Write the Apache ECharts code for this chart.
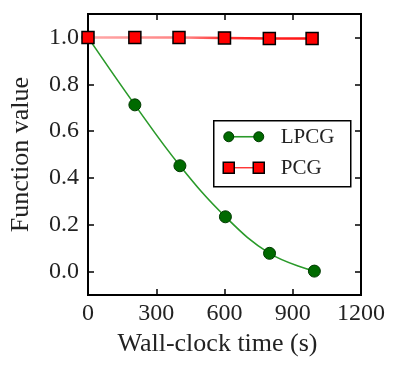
<!DOCTYPE html>
<html>
<head>
<meta charset="utf-8">
<script src="https://cdn.jsdelivr.net/npm/echarts@6/dist/echarts.min.js"></script>
<style>
html,body{margin:0;padding:0;background:#fff;}
#c{width:401px;height:374px;}
</style>
</head>
<body>
<div id="c"></div>
<script>
// ---- data ----
var lpcgTime = [0, 206, 404, 604, 798, 995];
var lpcgValue = [1.0, 0.712, 0.452, 0.234, 0.078, 0.002];
var pcgTime = [0, 206, 400, 600, 797, 985];
var pcgValue = [1.0, 1.0, 1.0, 0.998, 0.995, 0.995];
var xTicks = [0, 300, 600, 900, 1200];
var yTicks = [0.0, 0.2, 0.4, 0.6, 0.8, 1.0];
var seriesNames = ['LPCG', 'PCG'];

var FONT = '"Liberation Serif", "DejaVu Serif", serif';
var chart = echarts.init(document.getElementById('c'), null, {renderer: 'canvas'});

function pairs(xs, ys) { return xs.map(function (x, i) { return [x, ys[i]]; }); }

var axisLineStyle = {color: '#000', width: 2};
var tickStyle = {color: '#000', width: 1.5};
var option = {
  backgroundColor: '#fff',
  animation: false,
  grid: {left: 87, right: 40, top: 14, bottom: 79, containLabel: false,
    show: true, borderColor: '#000', borderWidth: 2, backgroundColor: 'transparent'},
  xAxis: [{
    type: 'value', gridIndex: 0, min: 0, max: 1200, interval: 300,
    name: 'Wall-clock time (s)', nameLocation: 'middle', nameGap: 36,
    nameTextStyle: {fontFamily: FONT, fontSize: 26, color: '#222', padding: [0, 14, 0, 0]},
    axisLine: {onZero: false, lineStyle: axisLineStyle},
    axisTick: {inside: true, length: 6, lineStyle: tickStyle},
    axisLabel: {fontFamily: FONT, fontSize: 24, color: '#222', margin: 7,
      customValues: xTicks, formatter: function (v) { return String(v); }},
    splitLine: {show: false}
  }, {
    type: 'value', gridIndex: 0, show: true, min: 0, max: 1200, interval: 300, position: 'top',
    axisLine: {show: true, onZero: false, lineStyle: axisLineStyle},
    axisTick: {show: true, inside: true, length: 6, customValues: [300, 600, 900], lineStyle: tickStyle},
    axisLabel: {show: false}, splitLine: {show: false}
  }],
  yAxis: [{
    type: 'value', gridIndex: 0, min: -0.1, max: 1.1,
    name: 'Function value', nameLocation: 'middle', nameGap: 54,
    nameTextStyle: {fontFamily: FONT, fontSize: 26, color: '#222'},
    axisLine: {onZero: false, lineStyle: axisLineStyle},
    axisTick: {inside: true, length: 6, customValues: yTicks, lineStyle: tickStyle},
    axisLabel: {fontFamily: FONT, fontSize: 24, color: '#222', margin: 9,
      customValues: yTicks, formatter: function (v) { return v.toFixed(1); }},
    splitLine: {show: false}
  }, {
    type: 'value', gridIndex: 0, min: -0.1, max: 1.1, position: 'right',
    axisLine: {show: true, onZero: false, lineStyle: axisLineStyle},
    axisTick: {show: true, inside: true, length: 6, customValues: yTicks, lineStyle: tickStyle},
    axisLabel: {show: false}, splitLine: {show: false}
  }],
  series: [{
    name: seriesNames[0], type: 'line', smooth: 0.4,
    data: pairs(lpcgTime, lpcgValue),
    symbol: 'circle', symbolSize: 12,
    lineStyle: {color: '#2a9a2a', width: 1.6},
    itemStyle: {color: '#006a00', borderColor: '#003a00', borderWidth: 1},
    z: 2
  }, {
    name: seriesNames[1], type: 'line',
    data: pairs(pcgTime, pcgValue),
    symbol: 'rect', symbolSize: 12,
    lineStyle: {width: 2.5, color: new echarts.graphic.LinearGradient(0, 0, 1, 0, [
      {offset: 0, color: '#ffaaaa'}, {offset: 0.45, color: '#ff8080'},
      {offset: 0.6, color: '#ff3333'}, {offset: 1, color: '#ff1111'}])},
    itemStyle: {color: '#ff0000', borderColor: '#000', borderWidth: 1.5},
    z: 3
  }],
  graphic: [{
    type: 'group', left: 213, top: 120, z: 100,
    children: [
      {type: 'rect', shape: {x: 0, y: 0, width: 137, height: 66},
        style: {fill: '#fff', stroke: '#000', lineWidth: 1.5}},
      {type: 'line', shape: {x1: 15, y1: 16, x2: 45, y2: 16}, style: {stroke: '#2a9a2a', lineWidth: 1.6}},
      {type: 'circle', shape: {cx: 15, cy: 16, r: 5}, style: {fill: '#006a00', stroke: '#003a00', lineWidth: 1}},
      {type: 'circle', shape: {cx: 45, cy: 16, r: 5}, style: {fill: '#006a00', stroke: '#003a00', lineWidth: 1}},
      {type: 'text', x: 67, y: 17, style: {text: seriesNames[0], font: '21px ' + FONT, fill: '#222', verticalAlign: 'middle'}},
      {type: 'line', shape: {x1: 15, y1: 47, x2: 45, y2: 47}, style: {stroke: '#ff2222', lineWidth: 1.3}},
      {type: 'rect', shape: {x: 9.5, y: 41.5, width: 11, height: 11}, style: {fill: '#ff0000', stroke: '#000', lineWidth: 1.5}},
      {type: 'rect', shape: {x: 39.5, y: 41.5, width: 11, height: 11}, style: {fill: '#ff0000', stroke: '#000', lineWidth: 1.5}},
      {type: 'text', x: 67, y: 48, style: {text: seriesNames[1], font: '21px ' + FONT, fill: '#222', verticalAlign: 'middle'}}
    ]
  }]
};
chart.setOption(option);
</script>
</body>
</html>
